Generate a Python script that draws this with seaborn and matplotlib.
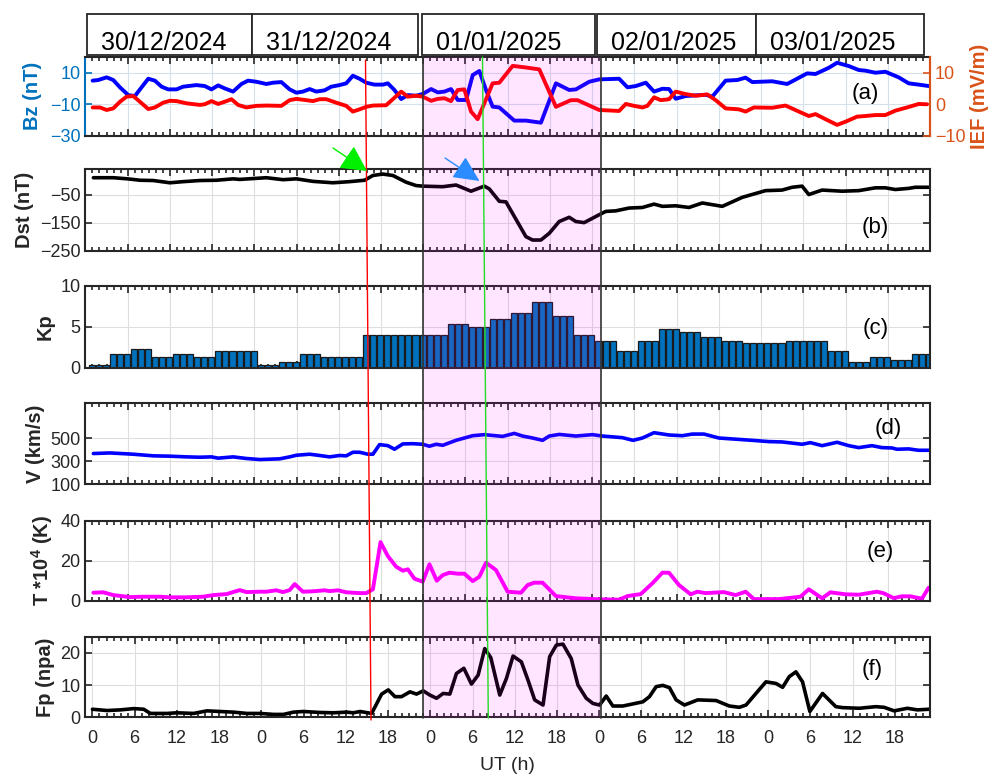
import numpy as np
import pandas as pd
import matplotlib
matplotlib.use("Agg")
import matplotlib.pyplot as plt
import seaborn as sns
from matplotlib.patches import Rectangle, FancyArrowPatch
from matplotlib.lines import Line2D
from matplotlib.transforms import blended_transform_factory
from matplotlib.ticker import MultipleLocator, FuncFormatter

# ---------------- data (hours since 30/12/2024 00 UT) ----------------
bz_hours = [1.03, 1.83, 3.02, 3.96, 4.91, 6.09, 7.04, 7.98, 8.93, 9.87, 10.82, 11.76, 12.95, 13.89, 15.78,
            16.96, 17.91, 18.86, 19.8, 20.98, 22.17, 23.11, 24.29, 25.71, 26.66, 27.84, 29.02, 29.97, 30.91,
            31.86, 32.8, 33.99, 34.93, 36.11, 37.06, 38.0, 38.95, 39.9, 41.08, 42.26, 42.97, 43.91, 44.86,
            45.81, 46.99, 47.93, 49.12, 50.06, 51.01, 51.95, 52.9, 54.08, 55.03, 55.97, 56.92, 57.86, 58.81,
            60.94, 62.59, 64.72, 66.85, 68.74, 69.69, 71.58, 73.0, 75.83, 77.02, 78.2, 79.62, 80.8, 81.98,
            82.93, 83.87, 85.29, 86.71, 88.13, 89.07, 90.96, 92.62, 93.8, 94.75, 97.58, 99.71, 102.55, 103.73,
            105.62, 106.8, 108.46, 109.88, 110.82, 112.24, 113.66, 115.55, 116.97, 118.39, 119.8]
bz_values = [4.9, 5.3, 7.0, 5.3, 0.7, -4.2, -4.8, 0.7, 6.1, 4.9, 1.1, -0.6, -0.6, 1.1, 2.1,
             1.5, -0.6, 1.9, 0.0, -2.0, 2.8, 4.9, 4.2, 2.8, 3.6, 4.0, -0.6, -2.7, -2.0,
             -0.4, -2.0, -1.2, 1.1, 2.1, 3.2, 8.0, 6.1, 3.6, 2.4, 2.4, 3.2, -1.0, -6.7,
             -4.2, -4.6, -3.5, -0.4, -2.5, -2.0, -0.4, -7.3, -7.3, 8.4, 11.0, -1.0, -11.5, -12.0,
             -20.3, -20.3, -21.6, 3.2, -1.0, -0.6, 4.2, 5.7, 6.1, 0.7, 1.5, 3.6, -2.0, -0.2,
             -0.4, -6.5, -4.8, -4.4, -4.0, -5.2, 4.9, 5.3, 6.8, 4.0, 4.5, 2.8, 9.5, 9.1,
             13.0, 16.2, 14.1, 11.6, 11.2, 9.9, 10.5, 7.0, 3.2, 2.4, 1.5]

ief_hours = [1.03, 2.07, 3.02, 3.96, 4.91, 5.85, 6.8, 7.74, 8.93, 9.87, 11.05, 12.0, 12.95, 14.36, 16.26,
             16.96, 17.91, 18.86, 19.8, 20.75, 21.69, 22.87, 24.29, 25.71, 27.84, 29.02, 29.97, 31.39, 32.33,
             33.28, 34.22, 35.64, 37.06, 38.0, 38.95, 39.9, 40.84, 42.73, 43.68, 44.86, 45.81, 46.99, 47.93,
             49.12, 50.06, 51.01, 51.95, 52.9, 53.84, 54.79, 55.73, 56.68, 57.86, 58.81, 60.7, 62.59, 64.49,
             66.85, 68.98, 69.92, 73.0, 75.83, 76.78, 77.96, 79.14, 79.85, 80.8, 81.74, 82.93, 83.87, 85.29,
             86.71, 88.36, 89.55, 90.96, 92.86, 93.8, 94.98, 97.58, 99.47, 101.37, 102.78, 103.73, 105.15,
             106.8, 107.99, 109.64, 110.82, 112.24, 113.66, 115.08, 116.73, 118.39, 119.57]
ief_values = [-1.0, -1.0, -1.8, -1.3, 0.8, 2.4, 2.6, 0.8, -1.5, -1.0, 0.5, 1.1, 1.0, 0.3, -0.2,
              0.0, 1.0, 0.1, 0.8, 1.6, -0.2, -1.0, -0.5, -0.4, -0.5, 1.3, 1.7, 1.3, 1.0,
              1.6, 1.6, 0.5, -0.5, -2.3, -1.6, -0.8, -0.4, -0.3, 1.6, 4.0, 2.4, 2.7, 2.4,
              1.1, 1.7, 1.9, 1.0, 4.5, 4.7, -2.3, -4.7, 0.3, 6.6, 6.8, 12.1, 11.6, 11.0,
              -0.8, 1.3, 1.3, -1.8, -2.1, 0.1, -0.5, -1.0, -0.5, 2.2, 1.3, 1.6, 4.0, 3.2,
              2.7, 3.1, 1.3, -1.3, -1.6, -2.3, -1.0, -1.1, -0.4, -2.3, -3.7, -3.1, -4.7,
              -6.5, -5.5, -3.9, -3.7, -3.4, -3.4, -2.0, -1.0, 0.1, 0.0]

dst_hours = [1.13, 3.97, 6.0, 7.75, 9.64, 12.0, 13.9, 16.26, 18.62, 20.99, 21.93, 23.82, 25.71, 28.08,
             29.97, 32.33, 35.17, 37.53, 39.66, 40.85, 42.26, 43.68, 45.57, 46.99, 47.93, 50.77, 52.66,
             54.79, 56.68, 57.39, 58.81, 59.75, 62.59, 63.54, 64.72, 65.9, 67.32, 68.74, 69.68, 70.86,
             72.99, 73.94, 75.36, 77.25, 79.14, 80.79, 81.98, 83.87, 85.76, 87.65, 90.49, 93.32, 96.63,
             98.99, 100.42, 101.83, 102.78, 104.67, 107.51, 109.87, 112.24, 113.66, 115.07, 116.96,
             117.91, 119.8]
dst_values = [10, 10, 6, 1, 0, -8, -4, 0, 1, 6, 4, 7, 10, 3,
              6, -3, -8, -4, 1, 18, 23, 18, -6, -18, -20, -22, -16,
              -38, -20, -30, -74, -76, -200, -212, -212, -188, -146, -131, -146, -150,
              -122, -110, -108, -98, -96, -84, -92, -90, -96, -80, -92, -60, -36,
              -34, -24, -20, -50, -34, -38, -36, -26, -26, -32, -28,
              -24, -24]

kp_3hourly = [0.3, 1.7, 2.3, 1.3, 1.7, 1.3, 2.0, 2.0,
              0.3, 0.7, 1.7, 1.3, 1.3, 4.0, 4.0, 4.0,
              4.0, 5.3, 5.0, 6.0, 6.7, 8.0, 6.3, 4.0,
              3.3, 2.0, 3.3, 4.7, 4.3, 3.7, 3.3, 3.0,
              3.0, 3.3, 3.3, 2.0, 0.7, 1.3, 1.0, 1.7]

v_hours = [1.13, 3.49, 6.8, 9.64, 12.0, 14.37, 16.26, 17.91, 18.86, 20.99, 22.88, 24.77, 27.6, 29.02,
           29.97, 31.86, 33.28, 34.7, 36.12, 37.06, 38.0, 38.95, 40.14, 40.85, 41.79, 42.97, 43.92, 45.1,
           46.52, 47.93, 48.88, 49.83, 50.77, 52.66, 55.03, 56.68, 59.28, 60.94, 62.12, 63.54, 64.96,
           65.9, 67.32, 69.68, 72.05, 73.47, 76.3, 77.81, 79.14, 80.79, 82.92, 84.81, 86.23, 87.89,
           90.01, 93.32, 94.74, 97.11, 98.99, 101.83, 103.01, 104.67, 106.8, 108.45, 109.87, 111.76,
           113.18, 114.6, 115.31, 116.96, 118.38, 119.8]
v_values = [366, 371, 360, 346, 343, 337, 334, 337, 326, 337, 323, 314, 320, 337,
            351, 360, 349, 337, 349, 346, 377, 377, 360, 360, 443, 434, 403, 449,
            451, 446, 429, 446, 437, 480, 520, 529, 514, 540, 517, 500, 480,
            517, 531, 517, 529, 517, 503, 480, 500, 546, 526, 520, 534, 534,
            500, 486, 480, 469, 466, 446, 460, 434, 463, 434, 417, 434,
            417, 414, 403, 406, 394, 394]

t_hours = [1.13, 2.55, 3.97, 6.33, 8.22, 10.58, 12.0, 14.37, 16.73, 18.15, 20.04, 21.93, 22.88, 24.77,
           25.71, 27.13, 28.08, 29.02, 29.73, 30.91, 32.33, 33.99, 34.7, 35.88, 37.06, 38.95, 39.9, 40.85,
           41.93, 42.97, 44.15, 45.1, 45.81, 46.75, 47.93, 48.88, 49.92, 50.77, 51.72, 52.9, 53.85, 55.03,
           55.97, 56.92, 58.34, 59.99, 61.88, 62.83, 63.77, 64.96, 66.85, 69.68, 72.99, 75.83, 77.01,
           78.9, 80.56, 81.98, 82.92, 84.34, 86.0, 86.94, 88.12, 90.72, 92.38, 93.8, 94.98, 98.52,
           101.6, 102.78, 104.67, 105.85, 107.98, 109.87, 112.47, 113.42, 114.84, 116.02, 117.2,
           118.86, 119.8]
t_values = [4.0, 4.2, 2.8, 1.8, 2.0, 2.0, 1.7, 1.7, 2.0, 2.8, 3.3, 5.3, 4.3, 4.5,
            4.5, 5.2, 4.3, 5.3, 8.3, 4.5, 4.7, 5.2, 4.8, 5.2, 4.2, 3.8, 3.8, 5.7,
            29.3, 22.3, 17.0, 15.0, 15.7, 11.0, 9.5, 18.2, 10.0, 12.8, 14.0, 13.5, 13.5, 9.8,
            12.0, 19.0, 15.3, 4.5, 4.0, 7.8, 9.0, 9.0, 2.3, 1.2, 0.7, 0.5, 2.3,
            3.3, 8.7, 14.0, 14.0, 7.8, 3.2, 4.5, 3.8, 4.3, 2.8, 4.5, 0.8, 0.8,
            2.0, 5.7, 1.2, 4.2, 3.2, 3.0, 4.5, 3.7, 1.3, 2.2, 2.2,
            1.0, 6.5]

# Fp panel has its own (one-hour shifted) time axis in the original figure
fp_hours = [0.0, 2.08, 3.97, 5.86, 7.28, 8.23, 10.59, 12.01, 14.37, 16.26, 18.16, 20.05, 21.94, 23.83,
            25.72, 27.14, 28.56, 29.98, 32.34, 34.23, 36.12, 37.07, 38.01, 39.67, 41.09, 42.03, 42.98,
            43.92, 45.11, 46.05, 47.0, 47.94, 48.89, 49.83, 50.78, 51.72, 52.77, 53.85, 54.8, 55.74,
            56.6, 57.87, 58.81, 59.76, 60.94, 61.89, 62.83, 64.02, 64.96, 65.91, 66.85, 68.03, 68.98,
            70.16, 71.11, 72.05, 73.0, 73.94, 75.36, 78.2, 79.14, 80.09, 81.04, 81.98, 82.93, 84.11,
            86.0, 88.6, 90.49, 91.91, 92.86, 94.27, 95.69, 97.11, 98.06, 99.0, 99.95, 100.89, 101.93,
            103.73, 105.62, 106.57, 108.93, 111.3, 112.48, 113.9, 115.79, 117.2, 118.86]
fp_values = [2.5, 2.1, 2.3, 2.7, 2.5, 1.2, 1.2, 1.4, 1.2, 2.0, 1.8, 1.6, 1.2, 1.2,
             0.9, 0.9, 1.6, 1.8, 1.5, 1.4, 1.6, 1.4, 1.8, 1.2, 7.2, 8.5, 6.4,
             6.4, 7.9, 7.2, 8.2, 6.9, 5.9, 7.4, 7.2, 13.6, 15.2, 10.3, 13.1, 21.3,
             18.5, 6.9, 12.0, 19.0, 17.2, 11.5, 5.4, 3.8, 18.8, 22.4, 22.7, 18.2, 10.0,
             5.9, 4.3, 3.8, 6.6, 3.5, 3.5, 4.8, 6.4, 9.5, 9.9, 9.2, 5.4, 3.8,
             5.4, 5.2, 3.5, 3.1, 3.8, 7.4, 11.0, 10.5, 9.3, 12.6, 14.1, 11.0, 1.8,
             7.4, 3.3, 3.0, 2.8, 3.3, 3.1, 2.0, 2.8, 2.3, 2.5]

date_labels = ["30/12/2024", "31/12/2024", "01/01/2025", "02/01/2025", "03/01/2025"]
panel_tags = ["(a)", "(b)", "(c)", "(d)", "(e)", "(f)"]

# ---------------- style ----------------
sns.set_theme(style="white")
plt.rcParams["font.family"] = ["Liberation Sans", "DejaVu Sans"]
plt.rcParams["mathtext.fontset"] = "custom"
plt.rcParams["mathtext.rm"] = "Liberation Sans"
plt.rcParams["mathtext.bf"] = "Liberation Sans:bold"
plt.rcParams["axes.unicode_minus"] = True

W, H = 993, 776
fig = plt.figure(figsize=(W / 100, H / 100), dpi=100)
fig.patch.set_facecolor("white")


def fig_rect(x0, top, x1, bottom):
    return [x0 / W, 1 - bottom / H, (x1 - x0) / W, (bottom - top) / H]


LEFT, RIGHT = 85.4, 930.0
rows = [(56.7, 136.0), (169.3, 250.7), (285.7, 367.7), (403.3, 484.3), (520.7, 600.7), (636.7, 717.3)]
axs = [fig.add_axes(fig_rect(LEFT, t, RIGHT, b)) for t, b in rows]

DARK = "#262626"
BZC = "#0072BD"
IEFC = "#D95319"
TICK_FS = 13
LAB_FS = 14.5


def style_axis(ax, xlim, yticks, ylim, grid_color="#dedede"):
    ax.set_xlim(*xlim)
    ax.set_ylim(*ylim)
    ax.set_yticks(yticks)
    ax.xaxis.set_major_locator(MultipleLocator(6))
    ax.xaxis.set_minor_locator(MultipleLocator(1))
    ax.tick_params(axis="x", which="both", direction="in", top=True, bottom=True,
                   colors=DARK, width=1.2, labelbottom=False)
    ax.tick_params(axis="x", which="major", length=5)
    ax.tick_params(axis="x", which="minor", length=3)
    ax.tick_params(axis="y", which="major", direction="in", left=True, right=True,
                   length=5, width=1.2, colors=DARK, labelsize=TICK_FS, pad=3.5)
    ax.grid(True, which="major", color=grid_color, linewidth=0.8)
    ax.set_axisbelow(True)
    for s in ax.spines.values():
        s.set_visible(True)
        s.set_color(DARK)
        s.set_linewidth(1.5)


LW = 2.6

# (a) Bz and IEF
ax = axs[0]
sns.lineplot(x=bz_hours, y=bz_values, ax=ax, color="#0000FF", linewidth=2.8)
style_axis(ax, (0, 120), [-30, -10, 10], (-30, 20), grid_color="#d6e0ea")
ax.tick_params(axis="y", right=False, colors=BZC)
ax.spines["left"].set_color(BZC)
ax.spines["right"].set_color(IEFC)
ax.set_ylabel("Bz (nT)", color=BZC, fontsize=LAB_FS, fontweight="bold", labelpad=6)
axi = ax.twinx()
sns.lineplot(x=ief_hours, y=ief_values, ax=axi, color="#FF0000", linewidth=2.8)
axi.set_ylim(-10, 15)
axi.set_yticks([-10, 0, 10])
axi.tick_params(axis="y", direction="in", length=5, width=1.2, colors=IEFC, labelsize=TICK_FS, pad=3.5)
for side in ["left", "top", "bottom"]:
    axi.spines[side].set_visible(False)
axi.spines["right"].set_color(IEFC)
axi.spines["right"].set_linewidth(1.5)
axi.set_ylabel("IEF (mV/m)", color=IEFC, fontsize=LAB_FS, fontweight="bold", labelpad=3)

# (b) Dst
ax = axs[1]
sns.lineplot(x=dst_hours, y=dst_values, ax=ax, color="black", linewidth=LW)
style_axis(ax, (0, 120), [-250, -150, -50], (-250, 40))
ax.set_ylabel("Dst (nT)", color=DARK, fontsize=LAB_FS, fontweight="bold")

# (c) Kp (3-hourly index drawn as hourly bars)
ax = axs[2]
kp_hourly = np.repeat(kp_3hourly, 3)
kp_centers = np.arange(len(kp_hourly)) + 0.9
kp_df = pd.DataFrame({"hour": kp_centers, "kp": kp_hourly})
sns.barplot(data=kp_df, x="hour", y="kp", native_scale=True, width=0.86, color=BZC, saturation=1,
            edgecolor="#1a1a1a", linewidth=0.9, errorbar=None, ax=ax)
style_axis(ax, (0, 120), [0, 5, 10], (0, 10))
ax.set_xlabel("")
ax.set_ylabel("Kp", color=DARK, fontsize=LAB_FS, fontweight="bold")

# (d) V
ax = axs[3]
sns.lineplot(x=v_hours, y=v_values, ax=ax, color="#0000FF", linewidth=LW)
style_axis(ax, (0, 120), [100, 300, 500], (100, 800))
ax.set_ylabel("V (km/s)", color=DARK, fontsize=LAB_FS, fontweight="bold")

# (e) T
ax = axs[4]
sns.lineplot(x=t_hours, y=t_values, ax=ax, color="#FF00FF", linewidth=2.8)
style_axis(ax, (0, 120), [0, 20, 40], (0, 40))
ax.set_ylabel("T *10$^{\\mathbf{4}}$ (K)", color=DARK, fontsize=LAB_FS, fontweight="bold")

# (f) Fp
ax = axs[5]
sns.lineplot(x=fp_hours, y=fp_values, ax=ax, color="black", linewidth=LW)
style_axis(ax, (-1, 119), [0, 10, 20], (0, 25))
ax.tick_params(axis="x", which="major", labelbottom=True, labelsize=TICK_FS, pad=9)
ax.xaxis.set_major_formatter(FuncFormatter(lambda v, p: f"{int(round(v)) % 24}"))
ax.set_ylabel("Fp (npa)", color=DARK, fontsize=LAB_FS, fontweight="bold")
ax.set_xlabel("UT (h)", color=DARK, fontsize=14, labelpad=7)

# panel tags
tag_pos = [(0.924, 0.53), (0.935, 0.28), (0.936, 0.484), (0.95, 0.683), (0.941, 0.62), (0.932, 0.587)]
tag_axes = [axi] + axs[1:]
for a, tag, (tx, ty) in zip(tag_axes, panel_tags, tag_pos):
    a.text(tx, ty, tag, transform=a.transAxes, ha="center", va="center", fontsize=16, color="black", zorder=10)

# date boxes
box_x = [(86.7, 252.3), (252.3, 417.7), (422.3, 595.0), (597.3, 755.7), (755.7, 924.3)]
for (x0, x1), lab in zip(box_x, date_labels):
    fig.add_artist(Rectangle((x0 / W, 1 - 55 / H), (x1 - x0) / W, (55 - 14.5) / H,
                             transform=fig.transFigure, facecolor="white", edgecolor=DARK,
                             linewidth=1.3, zorder=8))
    fig.text((x0 + 14) / W, 1 - 49.5 / H, lab, ha="left", va="baseline", fontsize=18,
             color="black", zorder=9)

# storm shading (in time coordinates of panels a-e)
trans = blended_transform_factory(axs[0].transData, fig.transFigure)
y_lo, y_hi = 1 - 717.5 / H, 1 - 57 / H
shade_start, shade_end = 48.0, 73.2
fig.add_artist(Rectangle((shade_start, y_lo), shade_end - shade_start, y_hi - y_lo, transform=trans,
                         facecolor=(1, 0, 1, 0.1), edgecolor="none", zorder=5))
for xe in (shade_start, shade_end):
    fig.add_artist(Line2D([xe, xe], [y_lo, y_hi], transform=trans, color="#333333", lw=1.2, zorder=6))

# slanted marker lines
fig.add_artist(Line2D([365.5 / W, 371 / W], [1 - 60 / H, 1 - 720 / H], transform=fig.transFigure,
                      color="#FF0000", lw=1.0, zorder=7))
fig.add_artist(Line2D([482.5 / W, 488.3 / W], [1 - 57 / H, 1 - 718 / H], transform=fig.transFigure,
                      color="#22DD22", lw=1.0, zorder=7))

# arrows
fig.add_artist(FancyArrowPatch((333 / W, 1 - 148 / H), (367 / W, 1 - 171 / H), transform=fig.transFigure,
                               arrowstyle="-|>,head_length=1.15,head_width=0.6", mutation_scale=14,
                               color="#00F000", lw=1.0, shrinkA=0, shrinkB=0, zorder=8))
fig.add_artist(FancyArrowPatch((445 / W, 1 - 158 / H), (479.5 / W, 1 - 181 / H), transform=fig.transFigure,
                               arrowstyle="-|>,head_length=1.15,head_width=0.55", mutation_scale=14,
                               color="#2A8CFF", lw=1.0, shrinkA=0, shrinkB=0, zorder=8))

fig.savefig("out.png", dpi=100)
